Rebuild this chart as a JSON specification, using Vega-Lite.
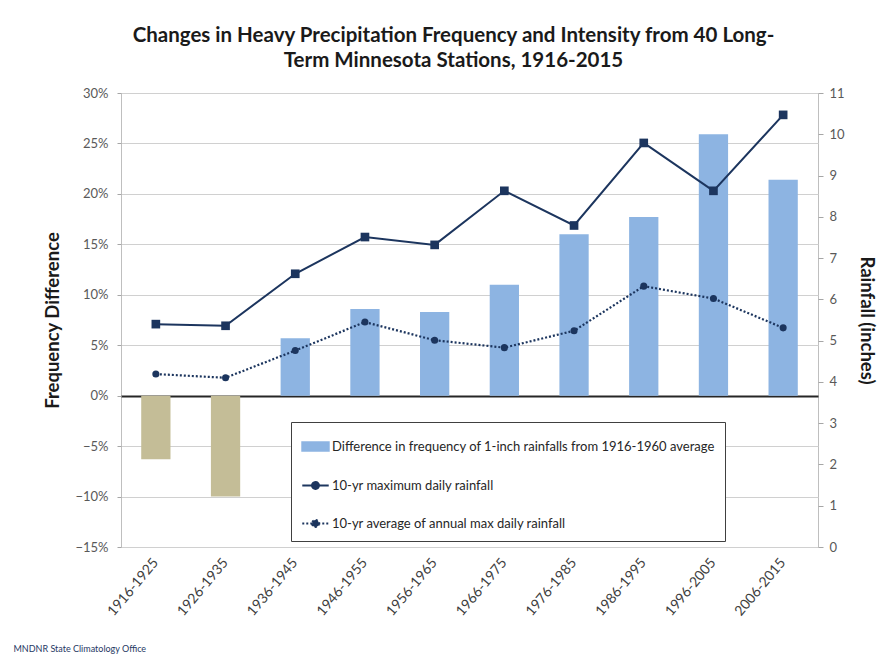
{
  "$schema": "https://vega.github.io/schema/vega-lite/v6.json",
  "width": 697,
  "height": 454,
  "autosize": "none",
  "padding": {"left": 121, "top": 93, "right": 68, "bottom": 111},
  "background": "white",
  "title": {
    "text": ["Changes in Heavy Precipitation Frequency and Intensity from 40 Long-", "Term Minnesota Stations, 1916-2015"],
    "font": "Lato",
    "fontSize": 20.5,
    "fontWeight": "bold",
    "color": "#1a1a1a",
    "anchor": "middle",
    "frame": "group",
    "dx": -16,
    "offset": 16,
    "lineHeight": 25
  },
  "config": {
    "view": {"stroke": "#bfbfbf", "strokeWidth": 1},
    "axis": {
      "labelFont": "Lato",
      "titleFont": "Lato",
      "labelColor": "#595959",
      "titleColor": "#1a1a1a",
      "labelFontSize": 13,
      "titleFontSize": 18.5,
      "titleFontWeight": "bold",
      "domain": false,
      "tickColor": "#a6a6a6",
      "gridColor": "#d0d0d0"
    },
    "legend": {
      "labelFont": "Lato",
      "labelFontSize": 13,
      "labelColor": "#262626"
    }
  },
  "data": {
    "values": [
      {"period": "1916-1925", "freq": -0.063, "maxr": 5.40, "avgr": 4.19},
      {"period": "1926-1935", "freq": -0.100, "maxr": 5.36, "avgr": 4.10},
      {"period": "1936-1945", "freq": 0.057, "maxr": 6.62, "avgr": 4.76},
      {"period": "1946-1955", "freq": 0.086, "maxr": 7.51, "avgr": 5.45},
      {"period": "1956-1965", "freq": 0.083, "maxr": 7.32, "avgr": 5.01},
      {"period": "1966-1975", "freq": 0.110, "maxr": 8.63, "avgr": 4.83},
      {"period": "1976-1985", "freq": 0.160, "maxr": 7.79, "avgr": 5.24},
      {"period": "1986-1995", "freq": 0.177, "maxr": 9.79, "avgr": 6.32},
      {"period": "1996-2005", "freq": 0.259, "maxr": 8.63, "avgr": 6.02},
      {"period": "2006-2015", "freq": 0.214, "maxr": 10.47, "avgr": 5.31}
    ]
  },
  "encoding": {
    "x": {
      "field": "period",
      "type": "nominal",
      "sort": null,
      "scale": {"paddingInner": 0.58, "paddingOuter": 0.29},
      "axis": {
        "labelAngle": -50,
        "labelFontSize": 14,
        "labelColor": "#404040",
        "ticks": false,
        "labelPadding": 13,
        "title": "MNDNR State Climatology Office",
        "titleFontSize": 9,
        "titleFontWeight": "normal",
        "titleColor": "#1f3864",
        "titleAnchor": "start",
        "titleAlign": "left",
        "titleBaseline": "bottom",
        "titleX": -108,
        "titleY": 106
      }
    }
  },
  "layer": [
    {
      "mark": {"type": "bar"},
      "encoding": {
        "y": {
          "field": "freq",
          "type": "quantitative",
          "scale": {"domain": [-0.15, 0.30], "nice": false, "zero": false},
          "axis": {
            "orient": "left",
            "values": [-0.15, -0.10, -0.05, 0, 0.05, 0.10, 0.15, 0.20, 0.25, 0.30],
            "format": ".0%",
            "title": "Frequency Difference",
            "titlePadding": 12,
            "tickSize": 4,
            "labelPadding": 9,
            "grid": true,
            "gridColor": {"condition": {"test": "datum.value === 0", "value": "#262626"}, "value": "#d0d0d0"},
            "gridWidth": {"condition": {"test": "datum.value === 0", "value": 2.2}, "value": 1}
          }
        },
        "color": {
          "condition": {"test": "datum.freq < 0", "value": "#c4bd97"},
          "datum": "Difference in frequency of 1-inch rainfalls from 1916-1960 average",
          "type": "nominal",
          "scale": {
            "domain": [
              "Difference in frequency of 1-inch rainfalls from 1916-1960 average",
              "10-yr maximum daily rainfall",
              "10-yr average of annual max daily rainfall"
            ],
            "range": ["#8db4e2", "#1c355e", "#1c355e"]
          },
          "legend": {
            "title": null,
            "orient": "none",
            "legendX": 170,
            "legendY": 329,
            "direction": "vertical",
            "strokeColor": "#404040",
            "fillColor": "white",
            "padding": 10,
            "symbolSize": 700,
            "rowPadding": 16,
            "labelOffset": 2,
            "labelLimit": 600,
            "encode": {
              "symbols": {
                "update": {
                  "shape": {"signal": "indexof(datum.value, 'Difference') >= 0 ? 'M-1,-0.33H1V0.33H-1Z' : 'M-1,0H1M0.26,0A0.26,0.26 0 1,1 -0.26,0A0.26,0.26 0 1,1 0.26,0'"},
                  "fill": {"signal": "indexof(datum.value, 'Difference') >= 0 ? '#8db4e2' : '#1c355e'"},
                  "stroke": {"signal": "indexof(datum.value, 'Difference') >= 0 ? '#8db4e2' : '#1c355e'"},
                  "strokeDash": {"signal": "indexof(datum.value, 'average of') >= 0 ? [2, 2] : [1, 0]"},
                  "strokeWidth": {"value": 2},
                  "opacity": {"value": 1},
                  "fillOpacity": {"value": 1}
                }
              }
            }
          }
        }
      }
    },
    {
      "mark": {
        "type": "line",
        "strokeWidth": 2,
        "point": {"shape": "square", "filled": true, "size": 75}
      },
      "encoding": {
        "y": {
          "field": "maxr",
          "type": "quantitative",
          "scale": {"domain": [0, 11], "nice": false},
          "axis": {
            "orient": "right",
            "values": [0, 1, 2, 3, 4, 5, 6, 7, 8, 9, 10, 11],
            "grid": false,
            "title": "Rainfall (inches)",
            "titlePadding": 12,
            "tickSize": 5,
            "labelPadding": 6
          }
        },
        "color": {"datum": "10-yr maximum daily rainfall", "type": "nominal"}
      }
    },
    {
      "mark": {
        "type": "line",
        "strokeWidth": 2.2,
        "strokeDash": [2, 2],
        "point": {"shape": "circle", "filled": true, "size": 50}
      },
      "encoding": {
        "y": {
          "field": "avgr",
          "type": "quantitative",
          "scale": {"domain": [0, 11], "nice": false},
          "axis": null
        },
        "color": {"datum": "10-yr average of annual max daily rainfall", "type": "nominal"}
      }
    }
  ],
  "resolve": {"scale": {"y": "independent"}}
}
